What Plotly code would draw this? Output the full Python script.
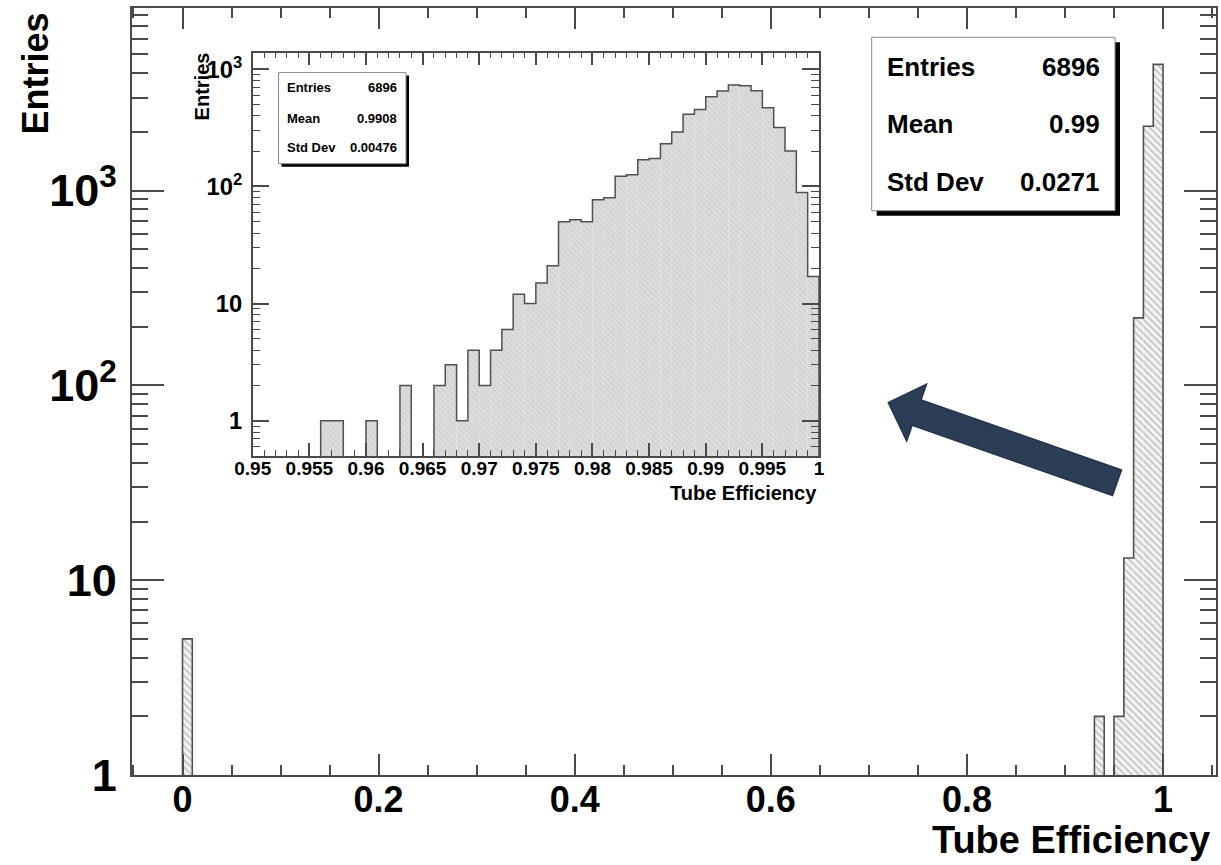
import math
import plotly.graph_objects as go

# ---------------- data ----------------
main_bin_width = 0.01
main_bin_low = [0.00, 0.93, 0.95, 0.96, 0.97, 0.98, 0.99]
main_counts = [5, 2, 2, 13, 222, 2139, 4443]

inset_bin_width = 0.001
inset_bin_low = [0.956, 0.957, 0.960, 0.963, 0.966, 0.967, 0.968, 0.969,
                 0.970, 0.971, 0.972, 0.973, 0.974, 0.975, 0.976, 0.977,
                 0.978, 0.979, 0.980, 0.981, 0.982, 0.983, 0.984, 0.985,
                 0.986, 0.987, 0.988, 0.989, 0.990, 0.991, 0.992, 0.993,
                 0.994, 0.995, 0.996, 0.997, 0.998, 0.999]
inset_counts = [1, 1, 1, 2, 2, 3, 1, 4,
                2, 4, 6, 12, 10, 15, 21, 50,
                52, 50, 77, 80, 122, 126, 169, 173,
                232, 292, 414, 454, 583, 652, 734, 725,
                655, 469, 318, 201, 89, 17]

stat_labels = ["Entries", "Mean", "Std Dev"]
main_stat_values = ["6896", "0.99", "0.0271"]
inset_stat_values = ["6896", "0.9908", "0.00476"]
x_title = "Tube Efficiency"
y_title = "Entries"

# ---------------- geometry helpers ----------------
W, H = 1221, 865
ML, MR, MT, MB = 132, 5, 8, 90
PW = W - ML - MR
PH = H - MT - MB


def px(x):
    return (x - ML) / PW


def py(y):
    return (H - MB - y) / PH


def step_outline(lows, counts, width, lo, hi, floor):
    nb = int(round((hi - lo) / width))
    full = [floor] * nb
    for l, c in zip(lows, counts):
        full[int(round((l - lo) / width))] = c
    xs = [lo] + [lo + i * width for i in range(nb)] + [hi]
    ys = [floor] + full + [floor]
    return xs, ys


FONT = "Liberation Sans"
FRAME = "#4a4a4a"
OUTLINE = "#505050"

fig = go.Figure()

# main histogram
fig.add_trace(go.Bar(
    x=[l + main_bin_width / 2 for l in main_bin_low], y=main_counts,
    width=main_bin_width, xaxis="x", yaxis="y",
    marker=dict(color="#efefef", line=dict(width=0),
                pattern=dict(shape="\\", bgcolor="#f2f2f2", fgcolor="#8a8a8a",
                             size=5, solidity=0.3)),
    hoverinfo="skip"))
mx, my = step_outline(main_bin_low, main_counts, main_bin_width, 0.0, 1.0, 0.01)
fig.add_trace(go.Scatter(x=mx, y=my, mode="lines", line_shape="hv",
                         line=dict(color=OUTLINE, width=1.6),
                         xaxis="x", yaxis="y", hoverinfo="skip"))

# inset histogram
fig.add_trace(go.Bar(
    x=[l + inset_bin_width / 2 for l in inset_bin_low], y=inset_counts,
    width=inset_bin_width, xaxis="x2", yaxis="y2",
    marker=dict(color="#d9d9d9", line=dict(width=0),
                pattern=dict(shape="\\", bgcolor="#dcdcdc", fgcolor="#c2c2c2",
                             size=4, solidity=0.3)),
    hoverinfo="skip"))
ix, iy = step_outline(inset_bin_low, inset_counts, inset_bin_width, 0.95, 1.0, 0.01)
fig.add_trace(go.Scatter(x=ix, y=iy, mode="lines", line_shape="hv",
                         line=dict(color=OUTLINE, width=1.5),
                         xaxis="x2", yaxis="y2", hoverinfo="skip"))


def axis_style(ticklen, fsize, standoff):
    return dict(showline=True, linecolor=FRAME, linewidth=2, mirror="ticks",
                ticks="inside", ticklen=ticklen, tickwidth=1.8, tickcolor=FRAME,
                showgrid=False, zeroline=False,
                tickfont=dict(family=FONT, size=fsize, color="black", weight="bold"),
                ticklabelstandoff=standoff)


xa = axis_style(21, 36, -8)
xa.update(range=[-0.0515, 1.054], tick0=0, dtick=0.2,
          minor=dict(ticks="inside", ticklen=10, tickwidth=1.5, tickcolor=FRAME,
                     dtick=0.05, showgrid=False))
ya = axis_style(32, 36, 6)
ya.update(type="log", range=[0, 3.937], dtick=1, exponentformat="power",
          minor=dict(ticks="inside", ticklen=16, tickwidth=1.5, tickcolor=FRAME,
                     dtick="D1", showgrid=False))

x2 = axis_style(13, 19, -6)
x2.update(range=[0.95, 1.0], tick0=0.95, dtick=0.005, anchor="y2",
          domain=[px(252.7), px(819)],
          minor=dict(ticks="inside", ticklen=6, tickwidth=1.2, tickcolor=FRAME,
                     dtick=0.001, showgrid=False))
x2["linewidth"] = 1.5
y2 = axis_style(17, 19, 5)
y2.update(type="log", range=[-0.30103, 3.142], dtick=1, exponentformat="power",
          anchor="x2", domain=[py(456), py(52.7)],
          minor=dict(ticks="inside", ticklen=8, tickwidth=1.2, tickcolor=FRAME,
                     dtick="D1", showgrid=False))
y2["linewidth"] = 1.5

shapes = []
annotations = []


def stats_box(x0, y0, x1, y1, off, labels, values, rows_y, tx0, tx1, fsize):
    shapes.append(dict(type="rect", xref="paper", yref="paper",
                       x0=px(x0 + off), x1=px(x1 + off), y0=py(y1 + off), y1=py(y0 + off),
                       fillcolor="black", line=dict(width=0), layer="above"))
    shapes.append(dict(type="rect", xref="paper", yref="paper",
                       x0=px(x0), x1=px(x1), y0=py(y1), y1=py(y0),
                       fillcolor="white", line=dict(color="#8a8a8a", width=1), layer="above"))
    for lab, val, ry in zip(labels, values, rows_y):
        annotations.append(dict(xref="paper", yref="paper", x=px(tx0), y=py(ry),
                                xanchor="left", yanchor="middle", text=lab, showarrow=False,
                                font=dict(family=FONT, size=fsize, color="black", weight="bold")))
        annotations.append(dict(xref="paper", yref="paper", x=px(tx1), y=py(ry),
                                xanchor="right", yanchor="middle", text=val, showarrow=False,
                                font=dict(family=FONT, size=fsize, color="black", weight="bold")))


stats_box(871.7, 37.3, 1115, 210.7, 5, stat_labels, main_stat_values,
          [66.7, 123.7, 181.7], 885, 1102, 26)
stats_box(278.5, 72.6, 406, 163.7, 3, stat_labels, inset_stat_values,
          [87.6, 118.3, 147.7], 285.4, 398.7, 13)

# axis titles
annotations.append(dict(xref="paper", yref="paper", x=px(1212), y=py(840),
                        xanchor="right", yanchor="middle", text=x_title, showarrow=False,
                        font=dict(family=FONT, size=38, color="black", weight="bold")))
annotations.append(dict(xref="paper", yref="paper", x=px(35), y=py(73.5),
                        xanchor="center", yanchor="middle", text=y_title, showarrow=False,
                        textangle=-90,
                        font=dict(family=FONT, size=36, color="black", weight="bold")))
annotations.append(dict(xref="paper", yref="paper", x=px(819), y=py(493),
                        xanchor="right", yanchor="middle", text=x_title, showarrow=False,
                        font=dict(family=FONT, size=20, color="black", weight="bold")))
annotations.append(dict(xref="paper", yref="paper", x=px(201.6), y=py(86.8),
                        xanchor="center", yanchor="middle", text=y_title, showarrow=False,
                        textangle=-90,
                        font=dict(family=FONT, size=20, color="black", weight="bold")))

# pointing arrow (decorative block arrow, pixel geometry -> paper)
tail = (1117.0, 482.7)
tip = (888.3, 402.7)
L = math.hypot(tip[0] - tail[0], tip[1] - tail[1])
ux, uy = (tip[0] - tail[0]) / L, (tip[1] - tail[1]) / L
nx, ny = -uy, ux
shaft_hw, head_hw, head_len = 13.5, 30.0, 30.0
base = (tip[0] - ux * head_len, tip[1] - uy * head_len)
pts = [
    (tail[0] + nx * shaft_hw, tail[1] + ny * shaft_hw),
    (base[0] + nx * shaft_hw, base[1] + ny * shaft_hw),
    (base[0] + nx * head_hw, base[1] + ny * head_hw),
    tip,
    (base[0] - nx * head_hw, base[1] - ny * head_hw),
    (base[0] - nx * shaft_hw, base[1] - ny * shaft_hw),
    (tail[0] - nx * shaft_hw, tail[1] - ny * shaft_hw),
]
path = "M " + " L ".join(f"{px(a):.5f},{py(b):.5f}" for a, b in pts) + " Z"
shapes.append(dict(type="path", xref="paper", yref="paper", path=path,
                   fillcolor="#2c3e55", line=dict(color="#24344a", width=1.5),
                   layer="above"))

fig.update_layout(
    width=W, height=H, margin=dict(l=ML, r=MR, t=MT, b=MB, autoexpand=False),
    paper_bgcolor="white", plot_bgcolor="white", showlegend=False,
    barmode="overlay",
    xaxis=xa, yaxis=ya, xaxis2=x2, yaxis2=y2,
    shapes=shapes, annotations=annotations,
)

fig.write_html("out.html")
